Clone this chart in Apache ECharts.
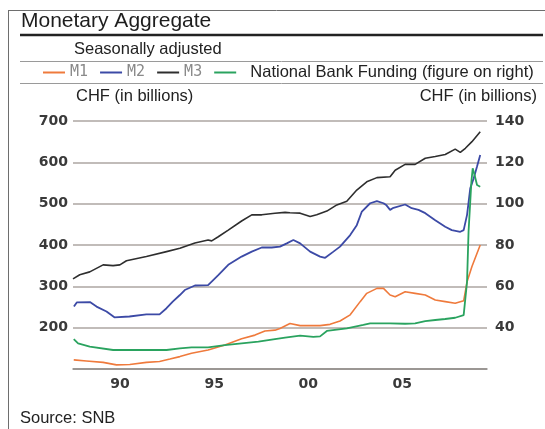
<!DOCTYPE html>
<html>
<head>
<meta charset="utf-8">
<script src="https://cdn.jsdelivr.net/npm/echarts@6/dist/echarts.min.js"></script>
<style>html,body{margin:0;padding:0;background:#fff}#c{width:545px;height:429px}</style>
</head>
<body>
<div id="c"></div>
<script>
// ---- data ----
var categories = ['1988','1989','1990','1991','1992','1993','1994','1995','1996','1997','1998','1999','2000','2001','2002','2003','2004','2005','2006','2007','2008','2009'];
var xTickLabels = {'1990':'90','1995':'95','2000':'00','2005':'05'};
var leftTicks = [100,200,300,400,500,600,700];
var rightTicks = [20,40,60,80,100,120,140];

var m1Years = [1988.04,1988.71,1989.6,1990.31,1991.02,1991.9,1992.6,1993.15,1993.68,1994.3,1995.18,1996.07,1996.96,1997.67,1998.2,1998.73,1999.0,1999.53,2000.07,2000.6,2001.13,2001.66,2002.19,2002.73,2003.26,2003.61,2004.15,2004.5,2004.85,2005.12,2005.65,2006.18,2006.72,2007.25,2007.78,2008.31,2008.76,2008.94,2009.2,2009.64];
var m1Values = [122,119.5,116,110,111,116,118,124,130,138,146,158,173,182,192,194,198,210,205,205,205,208,216,231,263,283,295,295,279,275,287,283,279,267,263,259,265,311,348,400];

var m2Years = [1988.05,1988.2,1988.9,1989.25,1989.78,1990.2,1991.0,1991.9,1992.6,1992.97,1993.3,1993.68,1993.94,1994.48,1995.18,1995.72,1996.25,1996.96,1997.5,1998.03,1998.56,1999.0,1999.36,1999.71,2000.07,2000.6,2001.13,2001.4,2001.84,2002.19,2002.73,2003.08,2003.35,2003.79,2004.15,2004.5,2004.66,2004.85,2005.03,2005.65,2006.0,2006.36,2006.72,2007.25,2007.78,2008.13,2008.58,2008.76,2008.94,2009.11,2009.29,2009.47,2009.64];
var m2Values = [251,261,262,251,239,225,227,232,232,247,263,279,291,302,303,327,352,372,384,394,394,396,404,412,404,384,372,369,384,396,424,448,481,501,506,501,496,485,490,498,489,485,477,460,444,436,432,436,473,537,561,590,618];

var m3Years = [1988.0,1988.36,1988.89,1989.6,1990.13,1990.49,1990.84,1991.9,1992.97,1993.68,1994.48,1995.18,1995.37,1995.72,1996.25,1996.96,1997.5,1998.03,1998.73,1999.27,1999.53,2000.07,2000.6,2000.95,2001.49,2002.02,2002.55,2003.08,2003.61,2004.15,2004.85,2005.12,2005.65,2006.18,2006.72,2007.25,2007.78,2008.31,2008.58,2008.85,2009.2,2009.64];
var m3Values = [318,328,335,352,350,352,362,372,384,392,405,412,410,420,436,458,473,473,477,479,478,477,469,473,482,497,506,533,553,563,565,581,595,595,610,614,619,632,624,634,650,674];

var nbfYears = [1988.04,1988.27,1988.89,1990.13,1991.37,1992.97,1993.68,1994.3,1995.18,1996.07,1996.96,1997.85,1998.73,1999.27,2000.07,2000.77,2001.13,2001.49,2002.55,2003.43,2003.79,2004.85,2005.65,2006.18,2006.72,2007.25,2007.78,2008.31,2008.76,2008.94,2009.02,2009.17,2009.24,2009.34,2009.47,2009.64];
var nbfValues = [34.5,32.4,30.8,29.2,29.2,29.2,30.0,30.5,30.5,31.6,32.4,33.2,34.5,35.2,36.1,35.5,35.8,38.4,39.7,41.3,42.1,42.1,41.9,42.1,43.2,43.7,44.2,44.8,46.1,62.3,86.5,110.6,117.1,113.9,109,108.2];

var seriesNames = ['M1','M2','M3','National Bank Funding (figure on right)'];
var seriesColors = ['#ef7a3c','#3c4aa6','#2e2e2e','#2aa35f'];

function pairs(xs, ys){ return xs.map(function(x,i){ return [x, ys[i]]; }); }

var chart = echarts.init(document.getElementById('c'), null, {renderer:'canvas'});
var monoLegend = {fontFamily:'DejaVu Sans Mono', fontSize:15, color:'#8a8a8a'};
var gridColor = '#ada6a2';
var option = {
  animation:false,
  backgroundColor:'#ffffff',
  grid:{left:73, right:58, top:121, bottom:60, containLabel:false},
  legend:{
    left:43, top:64, padding:0, itemGap:12, itemWidth:22, itemHeight:2, icon:'rect',
    formatter:function(n){ return n.length > 3 ? '  ' + n : n; },
    data:[
      {name:seriesNames[0], textStyle:monoLegend},
      {name:seriesNames[1], textStyle:monoLegend},
      {name:seriesNames[2], textStyle:monoLegend},
      {name:seriesNames[3], textStyle:{fontFamily:'Liberation Sans', fontSize:16.5, color:'#222'}}
    ]
  },
  xAxis:[
    {type:'category', data:categories, boundaryGap:true, gridIndex:0,
     axisLine:{lineStyle:{color:'#8f8a88', width:1.5}},
     axisTick:{inside:true, length:5, interval:0, lineStyle:{color:'#8f8a88', width:1.2}},
     axisLabel:{interval:0, margin:8, fontFamily:'DejaVu Sans', fontWeight:'bold', fontSize:14, color:'#3a3a3a',
       formatter:function(v){ return xTickLabels[v] || ''; }},
     splitLine:{show:false}},
    {type:'value', min:1988, max:2010, show:false, gridIndex:0}
  ],
  yAxis:[
    {type:'value', min:leftTicks[0], max:leftTicks[leftTicks.length-1], interval:100, position:'left',
     axisLine:{show:false}, axisTick:{show:false},
     axisLabel:{margin:5, fontFamily:'DejaVu Sans', fontWeight:'bold', fontSize:14, color:'#3a3a3a',
       formatter:function(v){ return v === leftTicks[0] ? '' : String(v); }},
     splitLine:{show:true, lineStyle:{color:gridColor, width:1.5}}},
    {type:'value', min:rightTicks[0], max:rightTicks[rightTicks.length-1], interval:20, position:'right',
     axisLine:{show:false}, axisTick:{show:false},
     axisLabel:{margin:8, fontFamily:'DejaVu Sans', fontWeight:'bold', fontSize:14, color:'#3a3a3a',
       formatter:function(v){ return v === rightTicks[0] ? '' : String(v); }},
     splitLine:{show:false}}
  ],
  series:[
    {name:seriesNames[0], type:'line', xAxisIndex:1, yAxisIndex:0, data:pairs(m1Years,m1Values), showSymbol:false, color:seriesColors[0], lineStyle:{width:1.6}},
    {name:seriesNames[1], type:'line', xAxisIndex:1, yAxisIndex:0, data:pairs(m2Years,m2Values), showSymbol:false, color:seriesColors[1], lineStyle:{width:1.8}},
    {name:seriesNames[2], type:'line', xAxisIndex:1, yAxisIndex:0, data:pairs(m3Years,m3Values), showSymbol:false, color:seriesColors[2], lineStyle:{width:1.6}},
    {name:seriesNames[3], type:'line', xAxisIndex:1, yAxisIndex:1, data:pairs(nbfYears,nbfValues), showSymbol:false, color:seriesColors[3], lineStyle:{width:1.8}}
  ],
  graphic:[
    {type:'line', shape:{x1:8.5, y1:10, x2:8.5, y2:429}, style:{stroke:'#6e6e6e', lineWidth:1}},
    {type:'line', shape:{x1:8, y1:10.5, x2:545, y2:10.5}, style:{stroke:'#6e6e6e', lineWidth:1}},
    {type:'line', shape:{x1:20, y1:35, x2:543, y2:35}, style:{stroke:'#222', lineWidth:2.5}},
    {type:'line', shape:{x1:20, y1:61.5, x2:543, y2:61.5}, style:{stroke:'#9a9a9a', lineWidth:1}},
    {type:'line', shape:{x1:20, y1:83.5, x2:543, y2:83.5}, style:{stroke:'#9a9a9a', lineWidth:1}},
    {type:'text', x:21, y:21, style:{text:'Monetary Aggregate', font:'21px "Liberation Sans"', fill:'#1e1e1e', verticalAlign:'middle'}},
    {type:'text', x:74, y:49, style:{text:'Seasonally adjusted', font:'16.5px "Liberation Sans"', fill:'#222', verticalAlign:'middle'}},
    {type:'text', x:76, y:96, style:{text:'CHF (in billions)', font:'16.5px "Liberation Sans"', fill:'#222', verticalAlign:'middle'}},
    {type:'text', x:537, y:96, style:{text:'CHF (in billions)', font:'16.5px "Liberation Sans"', fill:'#222', verticalAlign:'middle', align:'right'}},
    {type:'text', x:20, y:418, style:{text:'Source: SNB', font:'16.5px "Liberation Sans"', fill:'#222', verticalAlign:'middle'}}
  ]
};
chart.setOption(option);
</script>
</body>
</html>
